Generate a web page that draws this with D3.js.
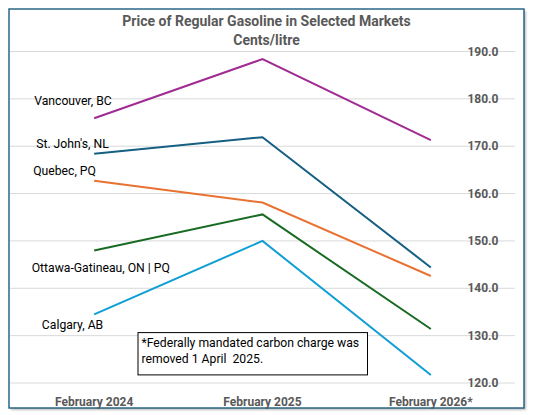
<!DOCTYPE html>
<html>
<head>
<meta charset="utf-8">
<script src="https://cdn.jsdelivr.net/npm/d3@7"></script>
<style>
  body { margin: 0; background: #fff; }
  text { font-family: Roboto, "Liberation Sans", sans-serif; }
</style>
</head>
<body>
<div id="main"></div>
<script>
// data (cents/litre)
var months = ["February 2024", "February 2025", "February 2026*"];
var markets = ["Vancouver, BC", "St. John's, NL", "Quebec, PQ", "Ottawa-Gatineau, ON | PQ", "Calgary, AB"];
var vancouver = [175.9, 188.4, 171.3];
var stJohns = [168.4, 171.9, 144.4];
var quebec = [162.7, 158.1, 142.6];
var ottawa = [148.0, 155.6, 131.4];
var calgary = [134.5, 150.0, 121.7];
var yTicks = [120, 130, 140, 150, 160, 170, 180, 190];
var noteLines = ["*Federally mandated carbon charge was", "removed 1 April  2025."];

var ctx = {
    w: 535,
    h: 415,
    left: 10,
    right: 515,
    top: 51.5,
    bottom: 383,
    grey: "#595959",
    colors: ["#A02B93", "#156082", "#E97132", "#196B24", "#0F9ED5"],
};

// where each series name sits, relative to its first point (Excel labels were dragged by hand)
var labelOffsets = [[-60, -17.6], [-58, -10.4], [-61, -10], [-62.5, 17.6], [-52.3, 10.8]];

var createChart = function(svg){
    var series = [vancouver, stJohns, quebec, ottawa, calgary];

    var x = d3.scalePoint().domain(months).range([ctx.left, ctx.right]).padding(0.5);
    var y = d3.scaleLinear().domain([120, 190]).range([ctx.bottom, ctx.top]);

    // chart frame with soft shadow
    var defs = svg.append("defs");
    defs.append("filter").attr("id", "sh")
        .append("feGaussianBlur").attr("stdDeviation", 1.2);
    svg.append("rect")
       .attr("x", 11).attr("y", 11).attr("width", 515).attr("height", 399)
       .attr("fill", "#bdbdbd").attr("filter", "url(#sh)");
    svg.append("rect")
       .attr("x", 9).attr("y", 9).attr("width", 515).attr("height", 399)
       .attr("fill", "#fff").attr("stroke", "#1B5C7E").attr("stroke-width", 1.4);

    // gridlines
    svg.selectAll("line.grid").data(yTicks).enter().append("line")
       .attr("class", "grid")
       .attr("x1", ctx.left).attr("x2", ctx.right)
       .attr("y1", function(d){ return y(d); })
       .attr("y2", function(d){ return y(d); })
       .attr("stroke", "#d9d9d9").attr("stroke-width", 1);

    // y tick labels sit inside the plot on the right
    svg.selectAll("text.ytick").data(yTicks).enter().append("text")
       .attr("class", "ytick")
       .attr("x", 498.5)
       .attr("y", function(d){ return y(d); })
       .attr("dy", "0.35em")
       .attr("text-anchor", "end")
       .style("font-size", "12px").style("font-weight", "bold")
       .style("fill", ctx.grey)
       .text(function(d){ return d3.format(".1f")(d); });

    // x labels
    svg.selectAll("text.xlab").data(months).enter().append("text")
       .attr("class", "xlab")
       .attr("x", function(d){ return x(d); })
       .attr("y", 402)
       .attr("dy", "0.35em")
       .attr("text-anchor", "middle")
       .style("font-size", "12px").style("font-weight", "bold")
       .style("fill", ctx.grey)
       .text(function(d){ return d; });

    // lines
    var line = d3.line()
        .x(function(d, i){ return x(months[i]); })
        .y(function(d){ return y(d); });
    svg.selectAll("path.series").data(series).enter().append("path")
       .attr("class", "series")
       .attr("d", line)
       .attr("fill", "none")
       .attr("stroke", function(d, i){ return ctx.colors[i]; })
       .attr("stroke-width", 2);

    // series names
    svg.selectAll("text.name").data(series).enter().append("text")
       .attr("class", "name")
       .attr("x", function(d, i){ return x(months[0]) + labelOffsets[i][0]; })
       .attr("y", function(d, i){ return y(d[0]) + labelOffsets[i][1]; })
       .attr("dy", "0.35em")
       .style("font-size", "12.2px")
       .style("fill", "#000")
       .text(function(d, i){ return markets[i]; });

    // title
    var title = svg.append("g").attr("transform", "translate(266.5,0)");
    title.append("text").attr("y", 21.5).attr("dy", "0.35em")
         .attr("text-anchor", "middle")
         .style("font-size", "14px").style("font-weight", "bold").style("fill", ctx.grey)
         .text("Price of Regular Gasoline in Selected Markets");
    title.append("text").attr("y", 40).attr("dy", "0.35em")
         .attr("text-anchor", "middle")
         .style("font-size", "14px").style("font-weight", "bold").style("fill", ctx.grey)
         .text("Cents/litre");

    // note box
    var note = svg.append("g").attr("transform", "translate(138,332.6)");
    note.append("rect").attr("width", 229.5).attr("height", 42.3)
        .attr("fill", "#fff").attr("stroke", "#000").attr("stroke-width", 1);
    note.selectAll("text").data(noteLines).enter().append("text")
        .attr("x", 3.5)
        .attr("y", function(d, i){ return 10.6 + i * 16; })
        .attr("dy", "0.35em")
        .attr("xml:space", "preserve")
        .style("white-space", "pre")
        .style("font-size", "12.2px").style("fill", "#000")
        .text(function(d){ return d; });
};

var createViz = function(){
    var svgEl = d3.select("#main").append("svg");
    svgEl.attr("width", ctx.w);
    svgEl.attr("height", ctx.h);
    createChart(svgEl);
};

createViz();
</script>
</body>
</html>
